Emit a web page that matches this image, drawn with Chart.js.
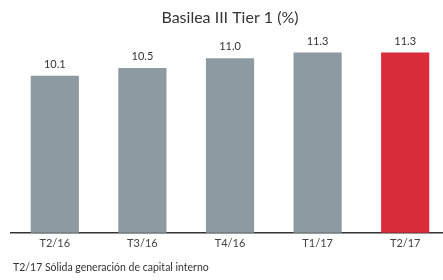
<!DOCTYPE html>
<html>
<head>
<meta charset="utf-8">
<script src="https://cdn.jsdelivr.net/npm/chart.js@4"></script>
<style>
  html, body { margin: 0; padding: 0; background: #fff; overflow: hidden; }
  #wrap { width: 449px; height: 280px; position: relative; }
</style>
</head>
<body>
<div id="wrap"><canvas id="tier1"></canvas></div>
<script>
// datos del grafico
const quarters = ["T2/16", "T3/16", "T4/16", "T1/17", "T2/17"]
const tier1 = [10.1, 10.5, 11.0, 11.3, 11.3]
const barColors = ["#8e9aa1", "#8e9aa1", "#8e9aa1", "#8e9aa1", "#d92b3a"]
const footnote = "T2/17 Sólida generación de capital interno"

const ctx = document.querySelector("#tier1")

// etiquetas encima de las barras + nota al pie
const labelsPlugin = {
    id: "labelsPlugin",
    afterDraw(chart) {
        const c = chart.ctx
        const meta = chart.getDatasetMeta(0)
        c.save()
        c.font = "11px Lato"
        c.fillStyle = "#333"
        c.textAlign = "center"
        c.textBaseline = "bottom"
        meta.data.forEach((bar, i) => {
            c.fillText(tier1[i].toFixed(1), bar.x, bar.y - 6)
        })
        c.font = "10.5px Lato"
        c.textAlign = "left"
        c.textBaseline = "middle"
        c.fillText(footnote, 13, 268)
        c.restore()
    }
}

const myChart = new Chart(ctx, {
    type: "bar",
    data: {
        labels: quarters,
        datasets: [{
            data: tier1,
            backgroundColor: barColors,
            barPercentage: 0.55,
            categoryPercentage: 1.0
        }]
    },
    options: {
        animation: false,
        responsive: true,
        maintainAspectRatio: false,
        layout: { padding: { left: 11, right: 0, top: 0, bottom: 26 } },
        plugins: {
            legend: { display: false },
            tooltip: { enabled: false },
            title: {
                display: true,
                text: "Basilea III Tier 1 (%)",
                color: "#333",
                font: { family: "Lato", size: 16, weight: "normal" },
                padding: { top: 8, bottom: 2 }
            }
        },
        scales: {
            x: {
                grid: { display: false, drawTicks: false },
                border: { display: true, color: "#333", width: 1.5 },
                ticks: { color: "#444", font: { family: "Lato", size: 11 }, padding: 4 }
            },
            y: {
                display: false,
                min: 2,
                max: 12.5
            }
        }
    },
    plugins: [labelsPlugin]
})
</script>
</body>
</html>
